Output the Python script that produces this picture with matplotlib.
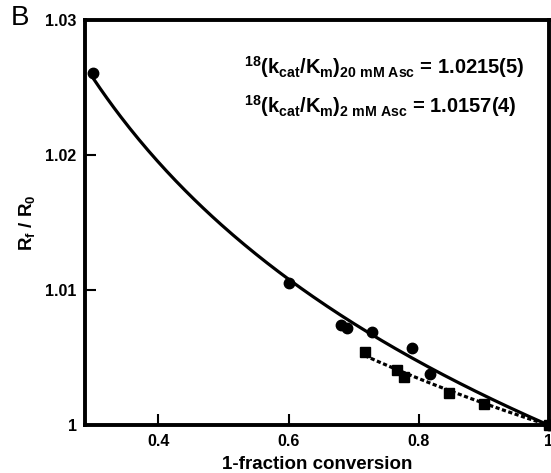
import numpy as np
import matplotlib
matplotlib.use('Agg')
import matplotlib.pyplot as plt

plt.rcParams['font.family'] = ['Liberation Sans', 'DejaVu Sans']
plt.rcParams['mathtext.fontset'] = 'custom'
plt.rcParams['mathtext.rm'] = 'Liberation Sans:bold'
plt.rcParams['mathtext.bf'] = 'Liberation Sans:bold'
plt.rcParams['mathtext.it'] = 'Liberation Sans:bold'
plt.rcParams['mathtext.default'] = 'bf'

# 20 mM ascorbate (circles)
x_20 = [0.300, 0.600, 0.681, 0.690, 0.728, 0.789, 0.818, 1.000]
y_20 = [1.0261, 1.0105, 1.0074, 1.0072, 1.0069, 1.0057, 1.0038, 1.0000]
# 2 mM ascorbate (squares)
x_2 = [0.717, 0.766, 0.777, 0.846, 0.900, 1.000]
y_2 = [1.0054, 1.0041, 1.0036, 1.0024, 1.0016, 1.0000]

kie_20 = 1.0215
kie_2 = 1.0157

xticks = [0.4, 0.6, 0.8, 1.0]
xticklabels = ['0.4', '0.6', '0.8', '1']
yticks = [1.0, 1.01, 1.02, 1.03]
yticklabels = ['1', '1.01', '1.02', '1.03']

fig = plt.figure(figsize=(5.51, 4.73), dpi=100)
ax = fig.add_axes([0.154, 0.101, 0.842, 0.857])

# fitted curves R/R0 = f^(1/KIE - 1)
f1 = np.linspace(min(x_20), 1.0, 200)
ax.plot(f1, f1 ** (1 / kie_20 - 1), color='black', lw=2.3, clip_on=False)
f2 = np.linspace(min(x_2), 1.0, 200)
ax.plot(f2, f2 ** (1 / kie_2 - 1), color='black', lw=2.3, ls=(0, (1.3, 0.8)), clip_on=False)

ax.plot(x_20, y_20, 'o', color='black', ms=7.5, clip_on=False, zorder=3)
ax.plot(x_2, y_2, 's', color='black', ms=7, clip_on=False, zorder=3)

ax.set_xlim(0.287, 1.0)
ax.set_ylim(1.0, 1.03)
ax.set_xticks(xticks)
ax.set_xticklabels(xticklabels)
ax.set_yticks(yticks)
ax.set_yticklabels(yticklabels)
ax.tick_params(direction='in', length=8, width=1.5, labelsize=11.5, pad=6)
for lab in ax.get_xticklabels() + ax.get_yticklabels():
    lab.set_fontweight('bold')
for s in ax.spines.values():
    s.set_linewidth(2.8)

ax.set_xlabel('1-fraction conversion', fontsize=13.5, fontweight='bold', labelpad=5)
ax.set_ylabel(r'R$_f$ / R$_0$', fontsize=13.5, fontweight='bold', labelpad=6)

ax.text(0.343, 0.866, r'$^{18}$(k$_{cat}$/K$_m$)$_{20\ mM\ Asc}$ = 1.0215(5)',
        transform=ax.transAxes, fontsize=14.5, fontweight='bold',
        ha='left', va='baseline')
ax.text(0.343, 0.770, r'$^{18}$(k$_{cat}$/K$_m$)$_{2\ mM\ Asc}$ = 1.0157(4)',
        transform=ax.transAxes, fontsize=14.5, fontweight='bold',
        ha='left', va='baseline')

fig.text(0.02, 0.963, 'B', fontsize=20, va='center', ha='left')

fig.savefig('out.png', dpi=100)
